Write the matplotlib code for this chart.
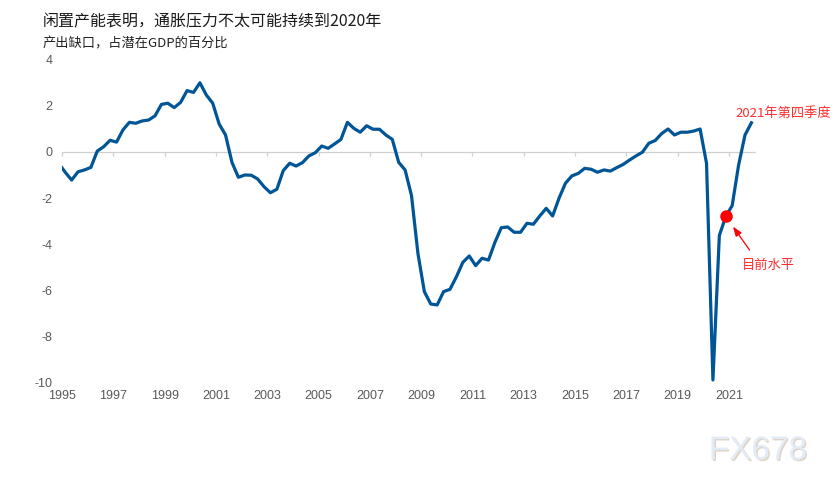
import matplotlib
matplotlib.use("Agg")
import matplotlib.pyplot as plt
import matplotlib.patheffects as pe
import numpy as np
import pandas as pd

# quarterly output gap, % of potential GDP (first quarter only partly visible)
quarters = pd.period_range("1994Q4", "2021Q4", freq="Q")
output_gap = [
    -0.50,
    -0.88, -1.22, -0.86, -0.78,   # 1995
    -0.67, 0.04, 0.23, 0.51,      # 1996
    0.43, 0.96, 1.29, 1.25,       # 1997
    1.35, 1.39, 1.57, 2.07,       # 1998
    2.12, 1.93, 2.16, 2.67,       # 1999
    2.59, 3.01, 2.48, 2.12,       # 2000
    1.22, 0.74, -0.45, -1.10,     # 2001
    -1.00, -1.01, -1.17, -1.51,   # 2002
    -1.77, -1.62, -0.81, -0.49,   # 2003
    -0.61, -0.46, -0.17, -0.03,   # 2004
    0.26, 0.16, 0.35, 0.55,       # 2005
    1.29, 1.03, 0.86, 1.14,       # 2006
    0.99, 0.99, 0.74, 0.55,       # 2007
    -0.45, -0.78, -1.90, -4.41,   # 2008
    -6.07, -6.61, -6.65, -6.07,   # 2009
    -5.97, -5.42, -4.80, -4.52,   # 2010
    -4.94, -4.62, -4.70, -3.93,   # 2011
    -3.29, -3.26, -3.49, -3.49,   # 2012
    -3.10, -3.14, -2.78, -2.45,   # 2013
    -2.78, -2.01, -1.36, -1.04,   # 2014
    -0.93, -0.71, -0.75, -0.88,   # 2015
    -0.78, -0.83, -0.68, -0.54,   # 2016
    -0.35, -0.17, -0.01, 0.38,    # 2017
    0.50, 0.80, 1.00, 0.74,       # 2018
    0.86, 0.86, 0.91, 1.00,       # 2019
    -0.49, -9.91, -3.63, -2.80,   # 2020
    -2.33, -0.57, 0.74, 1.27,     # 2021
]
now_quarter = "2020Q4"

tick_years = list(range(1995, 2022, 2))
y_ticks = [4, 2, 0, -2, -4, -6, -8, -10]

title = "闲置产能表明，通胀压力不太可能持续到2020年"
subtitle = "产出缺口，占潜在GDP的百分比"
label_last = "2021年第四季度"
label_now = "目前水平"

plt.rcParams["font.family"] = ["Noto Sans CJK SC", "DejaVu Sans"]

# quarter midpoints on a year axis
x = np.asarray(quarters.year + (quarters.quarter - 0.5) / 4, dtype=float)
y = np.asarray(output_gap)
i_now = list(quarters.astype(str)).index(now_quarter)

fig = plt.figure(figsize=(8.38, 4.87), dpi=100)
ax = fig.add_axes([0.074, 0.2156, 0.8265, 0.6612])

ax.plot(x, y, color="#005596", lw=2.3, solid_joinstyle="round", zorder=3)
ax.plot(x[i_now], y[i_now], "o", color="#ff0000", ms=8, zorder=4)

ax.set_xlim(1995, 2022)
ax.set_ylim(-10, 4)
for s in ["top", "right", "left"]:
    ax.spines[s].set_visible(False)
ax.spines["bottom"].set_position(("data", 0))
ax.spines["bottom"].set_color("#d0d0d0")
ax.spines["bottom"].set_linewidth(0.9)
ax.set_xticks(tick_years)
ax.tick_params(axis="x", direction="out", length=3, width=0.9,
               color="#d0d0d0", labelbottom=False)
ax.set_yticks(y_ticks, labels=[str(v) for v in y_ticks],
              fontfamily="Liberation Sans")
ax.tick_params(axis="y", length=0, pad=7, labelsize=9, labelcolor="#595959")

sec = ax.secondary_xaxis("bottom")
sec.set_xticks(tick_years, labels=[str(v) for v in tick_years],
               fontfamily="Liberation Sans")
sec.spines["bottom"].set_visible(False)
sec.tick_params(length=0, pad=6, labelsize=9, labelcolor="#595959")

red = "#ff2d2d"
ax.annotate(label_now, xy=(x[i_now], y[i_now]), xytext=(31, -35),
            textcoords="offset points", ha="center", va="center",
            color=red, fontsize=9.5,
            arrowprops=dict(arrowstyle="-|>,head_length=0.6,head_width=0.22",
                            color="#ff0000", lw=0.9, shrinkA=5, shrinkB=9,
                            relpos=(0.25, 1)))
ax.annotate(label_last, xy=(x[-1], y[-1]), xytext=(22.7, 7),
            textcoords="offset points", ha="center", va="center",
            color=red, fontsize=9.5, annotation_clip=False)

fig.text(43 / 838, 1 - 21.7 / 487, title, fontsize=11.5, va="center",
         color="#1a1a1a")
fig.text(43 / 838, 1 - 43.5 / 487, subtitle, fontsize=9.5, va="center",
         color="#222222")

fig.text(758 / 838, 1 - 451 / 487, "FX678", fontsize=24, ha="center",
         va="center", color="#e2ebf8", family="Liberation Sans",
         path_effects=[pe.withSimplePatchShadow(offset=(1, -1),
                                                shadow_rgbFace="#d2c2ab",
                                                alpha=0.7)])

fig.savefig("out.png", dpi=100)
